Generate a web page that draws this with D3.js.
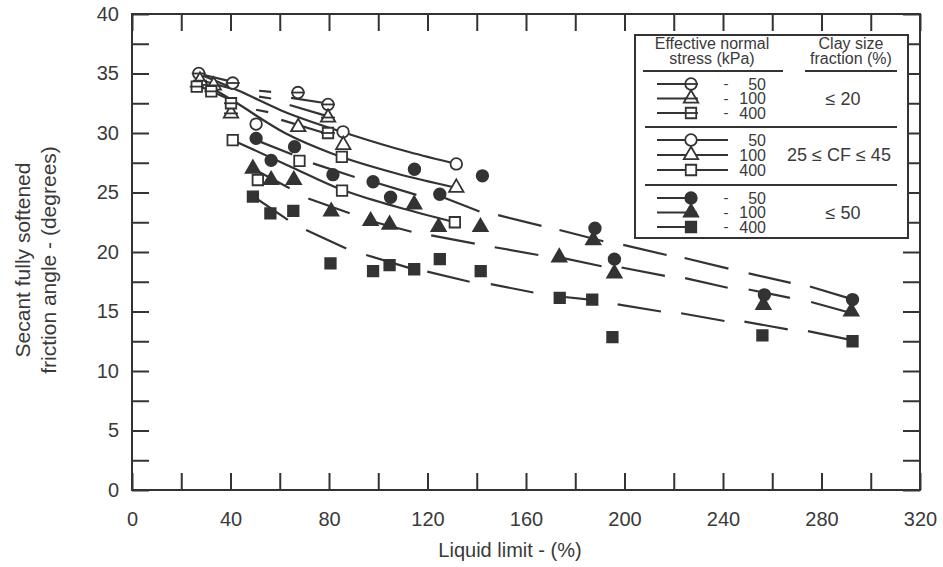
<!DOCTYPE html>
<html><head><meta charset="utf-8">
<script src="https://cdn.jsdelivr.net/npm/d3@7"></script>
<style>
body{margin:0;background:#fff}
svg{display:block}
text{font-family:"Liberation Sans",Arial,Helvetica,sans-serif;fill:#3a3a3a}
</style>
</head><body>
<svg id="c" width="943" height="567"></svg>
<script>
// ---------- axis ticks ----------
const xTickValues = [0,20,40,60,80,100,120,140,160,180,200,220,240,260,280,300,320];
const xTickLabels = [0,40,80,120,160,200,240,280,320];
const yTickValues = [0,2.5,5,7.5,10,12.5,15,17.5,20,22.5,25,27.5,30,32.5,35,37.5,40];
const yTickLabels = [0,5,10,15,20,25,30,35,40];

// ---------- legend text ----------
const stressLevels = ["50","100","400"];
const clayGroups = ["\u2264 20","25 \u2264 CF \u2264 45","\u2264 50"];

// ---------- data points [liquid limit %, secant friction angle deg] ----------
// CF <= 20 (open symbols with bar)
const cf20_50  = [[27.1,35.0],[40.9,34.2],[67.4,33.4],[79.6,32.4]];
const cf20_100 = [[27.6,34.4],[33.2,34.0],[40.2,31.65],[79.6,31.3]];
const cf20_400 = [[26.3,33.9],[32.2,33.5],[40.2,32.5],[79.6,30.0]];
// 25 <= CF <= 45 (open symbols)
const cf45_50  = [[50.4,30.75],[85.7,30.1],[131.7,27.4]];
const cf45_100 = [[67.5,30.5],[85.8,29.0],[131.7,25.4]];
const cf45_400 = [[40.9,29.4],[51.1,26.05],[68.0,27.65],[85.2,28.0],[85.3,25.15],[131.1,22.5]];
// CF >= 50 (filled symbols)
const cf50_50  = [[50.4,29.55],[56.5,27.7],[66.0,28.85],[81.6,26.5],[97.9,25.9],[105.0,24.6],[114.7,26.95],[125.0,24.85],[142.3,26.4],[188.0,22.0],[195.9,19.4],[256.8,16.4],[292.6,16.0]];
const cf50_100 = [[49.1,27.0],[56.5,26.05],[65.7,26.05],[80.9,23.4],[96.9,22.6],[104.6,22.3],[114.6,24.0],[124.5,22.1],[141.5,22.1],[173.5,19.55],[187.3,21.0],[195.9,18.2],[256.4,15.55],[292.1,15.0]];
const cf50_400 = [[49.1,24.65],[56.2,23.25],[65.5,23.45],[80.6,19.05],[97.9,18.4],[104.6,18.9],[114.6,18.55],[125.0,19.4],[141.6,18.4],[173.7,16.15],[186.9,16.0],[195.1,12.85],[256.0,13.0],[292.6,12.5]];

// ---------- trend lines ----------
// CF <= 20: broken lines (segments)
const trend20_50  = [[[26.7,35.0],[40.9,34.3]],[[51.6,33.55],[56.5,33.45]],[[64.6,32.95],[78.9,32.5]]];
const trend20_100 = [[[26.8,34.5],[40.9,33.7]],[[51.6,33.05],[56.5,32.9]],[[64.0,32.35],[79.6,31.4]]];
const trend20_400 = [[[26.8,34.0],[40.9,32.7]],[[50.4,31.95],[55.3,31.75]],[[60.6,31.1],[78.2,30.0]]];
// 25 <= CF <= 45: solid curves
const trend45_50  = [[26.7,35.0],[43.9,33.5],[60.6,31.9],[88.3,29.9],[112.5,28.4],[131.7,27.4]];
const trend45_100 = [[27.6,34.4],[41.9,32.6],[62.1,30.0],[80.9,28.3],[107.4,26.6],[131.7,25.4]];
const trend45_400 = [[40.9,29.4],[63.1,27.3],[85.0,25.25],[107.4,23.8],[131.1,22.5]];
// CF >= 50: long-dashed lines (dash pieces)
const trend50_50  = [[[50.4,29.4],[65.1,28.2]],[[73.5,27.45],[90.4,26.3]],[[97.9,25.9],[115.5,24.8]],[[125.0,24.7],[141.1,23.4]],[[148.7,23.1],[166.3,22.2]],[[173.6,21.85],[191.4,20.9]],[[199.5,20.6],[217.1,19.75]],[[224.4,19.5],[242.2,18.6]],[[250.4,18.2],[267.5,17.4]],[[275.3,17.1],[293.0,16.0]]];
const trend50_100 = [[[49.1,27.0],[64.0,25.35]],[[71.6,24.5],[88.4,23.25]],[[96.9,22.6],[113.5,21.7]],[[121.5,21.4],[139.2,20.7]],[[147.3,20.4],[165.0,19.75]],[[173.7,19.55],[190.7,18.8]],[[198.8,18.7],[216.4,18.0]],[[224.6,17.8],[241.9,17.0]],[[250.4,16.85],[267.2,16.15]],[[275.8,15.8],[292.3,14.85]]];
const trend50_400 = [[[49.1,24.7],[63.3,22.7]],[[70.7,21.85],[87.0,20.3]],[[95.1,19.75],[113.5,18.6]],[[119.9,18.35],[137.1,17.5]],[[145.7,17.3],[163.0,16.6]],[[171.7,16.3],[187.9,15.95]],[[197.2,15.6],[214.8,15.0]],[[223.0,14.85],[240.6,14.2]],[[248.7,14.15],[266.3,13.5]],[[274.5,13.35],[292.3,12.6]]];

// ---------- drawing ----------
const ink = "#333";
const svg = d3.select("#c");
const x = d3.scaleLinear().domain([0,320]).range([132,920]);
const y = d3.scaleLinear().domain([0,40]).range([490,14]);
const TICK = 17;

function styleAxis(g){
  g.select(".domain").remove();
  g.selectAll(".tick line").attr("stroke",ink).attr("stroke-width",2);
  g.selectAll(".tick text").attr("fill","#3a3a3a").style("font-size","20px").style("font-family",'"Liberation Sans",Arial,sans-serif');
}
svg.append("g").attr("transform",`translate(${x(0)},0)`)
  .call(d3.axisLeft(y).tickValues(yTickValues).tickSizeInner(-TICK).tickSizeOuter(0).tickPadding(13)
    .tickFormat(d => yTickLabels.includes(d) ? d : ""))
  .call(styleAxis);
svg.append("g").attr("transform",`translate(${x(320)},0)`)
  .call(d3.axisRight(y).tickValues(yTickValues).tickSizeInner(-TICK).tickSizeOuter(0).tickFormat(""))
  .call(styleAxis);
svg.append("g").attr("transform",`translate(0,${y(0)})`)
  .call(d3.axisBottom(x).tickValues(xTickValues).tickSizeInner(-TICK).tickSizeOuter(0).tickPadding(22)
    .tickFormat(d => xTickLabels.includes(d) ? d : ""))
  .call(styleAxis);
svg.append("g").attr("transform",`translate(0,${y(40)})`)
  .call(d3.axisTop(x).tickValues(xTickValues).tickSizeInner(-TICK).tickSizeOuter(0).tickFormat(""))
  .call(styleAxis);
svg.append("rect").attr("x",x(0)).attr("y",y(40)).attr("width",x(320)-x(0)).attr("height",y(0)-y(40))
  .attr("fill","none").attr("stroke",ink).attr("stroke-width",2);

// axis titles
svg.append("text").attr("x",(x(0)+x(320))/2 - 16).attr("y",557).attr("text-anchor","middle")
  .style("font-size","20px").text("Liquid limit -  (%)");
const yt = svg.append("text").attr("transform",`translate(30,${(y(0)+y(40))/2+8}) rotate(-90)`)
  .attr("text-anchor","middle").style("font-size","21px");
yt.append("tspan").attr("x",0).attr("dy",0).text("Secant fully softened");
yt.append("tspan").attr("x",0).attr("dy",26).text("friction angle  - (degrees)");

// trend lines
const line = d3.line().x(d=>x(d[0])).y(d=>y(d[1]));
const curve = d3.line().x(d=>x(d[0])).y(d=>y(d[1])).curve(d3.curveMonotoneX);
const gl = svg.append("g").attr("fill","none").attr("stroke",ink).attr("stroke-width",2.2).attr("stroke-linecap","butt");
[trend20_50,trend20_100,trend20_400,trend50_50,trend50_100,trend50_400].forEach(segs=>{
  segs.forEach(s=> gl.append("path").attr("d",line(s)));
});
[trend45_50,trend45_100,trend45_400].forEach(p=> gl.append("path").attr("d",curve(p)));

// symbols
const shapes = {c:d3.symbolCircle, t:d3.symbolTriangle, s:d3.symbolSquare};
const sizes = {c:105, t:90, s:110};
function drawSym(g, px, py, shape, style){
  const filled = style === "filled";
  g.append("path").attr("transform",`translate(${px},${py})`)
    .attr("d", d3.symbol(shapes[shape], sizes[shape])())
    .attr("fill", filled ? "#333" : "#fff").attr("stroke", ink).attr("stroke-width",1.8);
  if (style === "barred") {
    g.append("line").attr("x1",px-7).attr("x2",px+7).attr("y1",py).attr("y2",py)
      .attr("stroke",ink).attr("stroke-width",1.8);
  }
}
const gp = svg.append("g");
const seriesList = [
  [cf20_50,"c","barred"],[cf20_100,"t","barred"],[cf20_400,"s","barred"],
  [cf45_50,"c","open"],[cf45_100,"t","open"],[cf45_400,"s","open"],
  [cf50_50,"c","filled"],[cf50_100,"t","filled"],[cf50_400,"s","filled"]
];
seriesList.forEach(([pts,shape,style])=> pts.forEach(d=> drawSym(gp, x(d[0]), y(d[1]), shape, style)));

// ---------- legend ----------
const lg = svg.append("g");
const LX0 = 635, LX1 = 908, LY0 = 35, LY1 = 238;
lg.append("rect").attr("x",LX0).attr("y",LY0).attr("width",LX1-LX0).attr("height",LY1-LY0)
  .attr("fill","#fff").attr("stroke",ink).attr("stroke-width",2);
const hdr = [["Effective normal",712,49],["stress (kPa)",712,64],["Clay size",851,49],["fraction (%)",851,64]];
hdr.forEach(([t,hx,hy])=> lg.append("text").attr("x",hx).attr("y",hy).attr("text-anchor","middle")
  .style("font-size","16px").attr("fill","#555").text(t));
lg.append("line").attr("x1",643).attr("x2",783).attr("y1",71).attr("y2",71).attr("stroke",ink).attr("stroke-width",2);
lg.append("line").attr("x1",805).attr("x2",897).attr("y1",71).attr("y2",71).attr("stroke",ink).attr("stroke-width",2);
lg.append("line").attr("x1",645).attr("x2",897).attr("y1",127).attr("y2",127).attr("stroke",ink).attr("stroke-width",2);
lg.append("line").attr("x1",645).attr("x2",897).attr("y1",185).attr("y2",185).attr("stroke",ink).attr("stroke-width",2);

const rowsY = [[84,98.5,113],[140,155,170],[198,212.5,227]];
const groupStyle = ["barred","open","filled"];
const shapeKeys = ["c","t","s"];
rowsY.forEach((rows,gi)=>{
  rows.forEach((ry,ri)=>{
    const sx = 691;
    const xEnd = gi === 1 ? 728 : sx + 6;
    lg.append("line").attr("x1",657).attr("x2",xEnd).attr("y1",ry).attr("y2",ry).attr("stroke",ink).attr("stroke-width",2);
    drawSym(lg, sx, ry, shapeKeys[ri], groupStyle[gi]);
    if (gi !== 1) lg.append("text").attr("x",726).attr("y",ry).attr("dy","0.35em").attr("text-anchor","middle").style("font-size","15px").text("-");
    lg.append("text").attr("x",766).attr("y",ry).attr("dy","0.35em").attr("text-anchor","end").style("font-size","16px").text(stressLevels[ri]);
  });
  lg.append("text").attr("x",gi===1 ? 839 : 843).attr("y",rows[1]).attr("dy","0.35em").attr("text-anchor","middle").style("font-size","18px").text(clayGroups[gi]);
});
</script>
</body></html>
